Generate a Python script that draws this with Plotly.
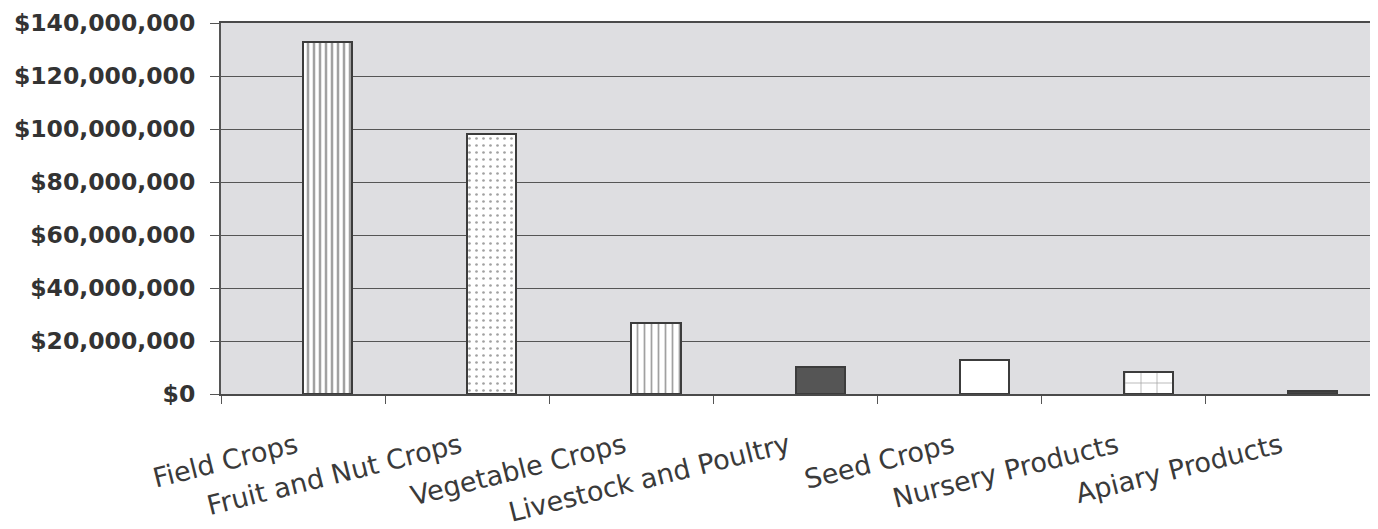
import plotly.graph_objects as go

categories = ["Field Crops", "Fruit and Nut Crops", "Vegetable Crops",
              "Livestock and Poultry", "Seed Crops", "Nursery Products",
              "Apiary Products"]
values = [133_000_000, 98_000_000, 26_800_000, 10_100_000, 12_900_000,
          8_400_000, 1_200_000]
y_ticks = [0, 20_000_000, 40_000_000, 60_000_000, 80_000_000,
           100_000_000, 120_000_000, 140_000_000]
y_tick_labels = ["$0", "$20,000,000", "$40,000,000", "$60,000,000",
                 "$80,000,000", "$100,000,000", "$120,000,000", "$140,000,000"]

# bar fill styles (one per category)
fill_colors = ["white", "white", "white", "#555555", "white", "white", "#444444"]
pattern_shapes = ["|", ".", "|", "", "", "+", ""]
pattern_sizes = [6, 7, 7, 8, 8, 16, 8]
pattern_solidity = [0.42, 0.12, 0.25, 0.3, 0.3, 0.09, 0.3]
pattern_fg = ["#3c3c3c", "#8a8a8a", "#505050", "#555555", "#555555", "#505050", "#444444"]

fig = go.Figure()
fig.add_trace(go.Bar(
    x=categories,
    y=values,
    width=0.3,
    offset=0.0,
    marker=dict(
        color=fill_colors,
        line=dict(color="#3c3c3c", width=2),
        pattern=dict(shape=pattern_shapes, size=pattern_sizes,
                     solidity=pattern_solidity, fgcolor=pattern_fg,
                     fillmode="overlay"),
    ),
    hoverinfo="x+y",
))

# the page body adds an 8px margin; the figure is sized to fit the window
fig.update_layout(
    width=1370, height=521,
    margin=dict(l=213, r=8, t=15, b=135, autoexpand=False),
    paper_bgcolor="white",
    plot_bgcolor="#dedee1",
    showlegend=False,
    bargap=0.0,
)

fig.update_xaxes(
    type="category",
    range=[-0.5, 6.5],
    automargin=False,
    tickson="boundaries",
    ticks="outside", ticklen=8, tickcolor="#555555", tickwidth=1,
    tickangle=-14,
    ticklabelstandoff=24,
    ticklabelshift=-7,
    tickfont=dict(family="DejaVu Sans", size=27, color="#3a3a3a"),
    showline=True, linecolor="#4a4a4a", linewidth=2, mirror=True,
    showgrid=False,
)
fig.update_yaxes(
    range=[0, 140_000_000],
    automargin=False,
    tickvals=y_ticks, ticktext=y_tick_labels,
    ticks="outside", ticklen=9, tickcolor="#555555", tickwidth=1,
    ticklabelstandoff=10,
    tickfont=dict(family="DejaVu Sans", size=23.5, color="#333333", weight="bold"),
    showline=True, linecolor="#555555", linewidth=2, mirror=True,
    showgrid=True, gridcolor="#555555", gridwidth=1.2,
    zeroline=False,
)

fig.write_html("out.html")
